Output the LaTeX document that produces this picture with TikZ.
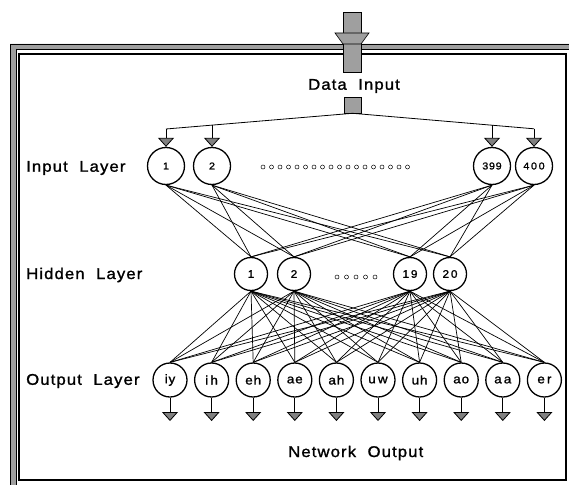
\documentclass[tikz,border=0pt]{standalone}
\usepackage{fontspec}
\setmainfont{Liberation Sans}[FakeStretch=1.08, LetterSpace=7, FakeBold=1.3]
\usetikzlibrary{arrows.meta}
\begin{document}
\begin{tikzpicture}[x=1pt,y=-1pt,
  neuronin/.style={circle,draw,line width=1.3pt,minimum size=37pt,inner sep=0pt,font=\fontsize{10}{10}\selectfont},
  neuronhid/.style={circle,draw,line width=1.3pt,minimum size=33pt,inner sep=0pt,font=\fontsize{11}{10}\selectfont},
  neuronout/.style={circle,draw,line width=1.3pt,minimum size=34pt,inner sep=0pt,font=\fontsize{12.5}{11}\selectfont},
  lbl/.style={anchor=west,inner sep=0pt,font=\fontsize{15.5}{16}\selectfont},
  ttl/.style={inner sep=0pt,font=\fontsize{15.5}{16}\selectfont},
  wire/.style={line width=0.7pt},
  feed/.style={line width=0.8pt,-{Triangle[width=16pt,length=9pt,fill=gray]}},
  gbox/.style={fill=gray!75,draw=black,line width=0.6pt},
  tinydot/.style={draw,line width=0.5pt}]
\useasboundingbox (0,0) rectangle (569,484);
\begin{scope}
\clip (0,0) rectangle (569,484);
% outer band
\fill[gray!75,even odd rule] (10,44) rectangle (580,495) (16,49.5) rectangle (569.5,486);
\draw[line width=0.6pt] (10,495) -- (10,44) -- (580,44);
\draw[line width=0.6pt] (16,495) -- (16,49.5) -- (580,49.5);
% inner frame
\draw[line width=1.1pt] (19,54) rectangle (566,480);
\end{scope}
% top arrow
\node[gbox,minimum width=18pt,minimum height=60pt,inner sep=0pt] (shaft) at (352,42) {};
\draw[gbox] (335,33) -- (369,33) -- (361,44) -- (343,44) -- cycle;
\node[ttl] (din) at (354,86) {Data\ \ Input};
\node[gbox,minimum width=17pt,minimum height=16pt,inner sep=0pt] (stub) at (352.5,105) {};
% input layer
\node[neuronin] (i1) at (166,166) {1};
\node[neuronin] (i2) at (212,166) {2};
\node[neuronin] (i399) at (492,166) {399};
\node[neuronin] (i400) at (534,166) {4\,0\,0};
\coordinate (c1) at (166,129);
\coordinate (c2) at (212,125);
\coordinate (c3) at (492,125.2);
\coordinate (c4) at (534,128.8);
\draw[line width=0.8pt] (c1) -- (stub.south) -- (c4);
\draw[feed] (c1) -- (i1.north);
\draw[feed] (c2) -- (i2.north);
\draw[feed] (c3) -- (i399.north);
\draw[feed] (c4) -- (i400.north);
\foreach \k in {0,...,17} \draw[tinydot] (263+\k*8.5,167) circle (2);
% hidden layer
\node[neuronhid] (h1) at (251,274) {1};
\node[neuronhid] (h2) at (294,274) {2};
\node[neuronhid] (h19) at (410,274) {1\,9};
\node[neuronhid] (h20) at (450,274) {2\,0};
\foreach \k in {0,...,4} \draw[tinydot] (337+\k*9.5,277) circle (2);
% output layer
\foreach \n/\t [count=\c] in {o1/iy,o2/i\,h,o3/eh,o4/ae,o5/ah,o6/u\,w,o7/uh,o8/ao,o9/a\,a,o10/e\,r}
  \node[neuronout] (\n) at (170+41.6*\c-41.6,380) {\t};
% connections
\foreach \a in {i1,i2,i399,i400}
  \foreach \b in {h1,h2,h19,h20}
    \draw[wire] (\a.south) -- (\b.north);
\foreach \a in {h1,h2,h19,h20}
  \foreach \b in {o1,o2,o3,o4,o5,o6,o7,o8,o9,o10}
    \draw[wire] (\a.south) -- (\b.north);
% outputs
\foreach \n [count=\c] in {o1,o2,o3,o4,o5,o6,o7,o8,o9,o10} {
  \coordinate (e\c) at (170+41.6*\c-41.6,421);
  \draw[feed] (\n.south) -- (e\c);
}
% labels
\node[lbl] (lin) at (26,168) {Input\ \ Layer};
\node[lbl] (lhid) at (26,275) {Hidden\ \ Layer};
\node[lbl] (lout) at (26,381) {Output\ \ Layer};
\node[ttl,anchor=west] (nout) at (288,453) {Network\ \ Output};
\end{tikzpicture}
\end{document}
